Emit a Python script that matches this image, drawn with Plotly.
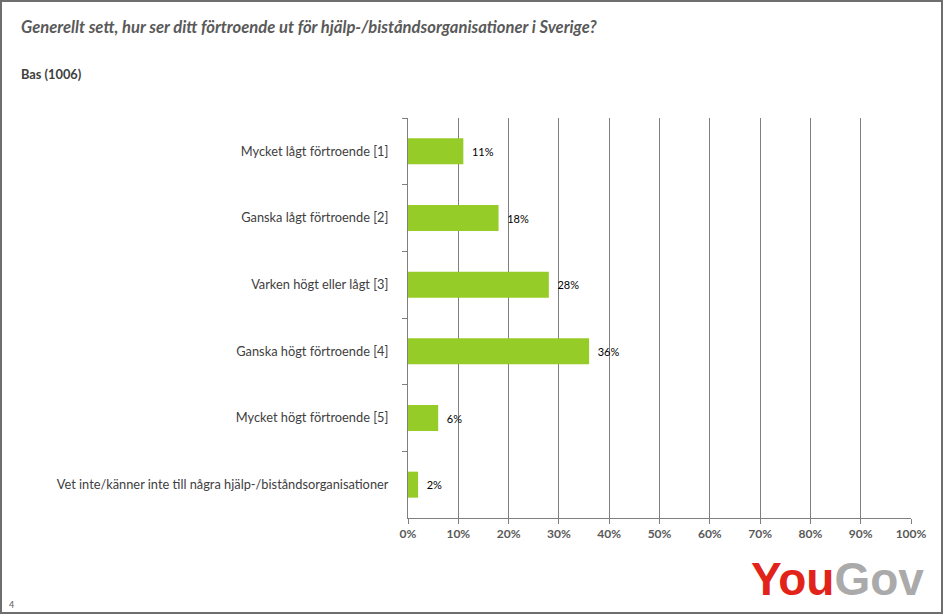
import plotly.graph_objects as go

categories = [
    "Mycket lågt förtroende [1]",
    "Ganska lågt förtroende [2]",
    "Varken högt eller lågt [3]",
    "Ganska högt förtroende [4]",
    "Mycket högt förtroende [5]",
    "Vet inte/känner inte till några hjälp-/biståndsorganisationer",
]
values = [11, 18, 28, 36, 6, 2]
tick_vals = [0, 10, 20, 30, 40, 50, 60, 70, 80, 90, 100]
tick_labels = [f"{v}%" for v in tick_vals]

title_text = "Generellt sett, hur ser ditt förtroende ut för hjälp-/biståndsorganisationer i Sverige?"
base_text = "Bas (1006)"
page_number = "4"

FONT = "Lato, Calibri, Carlito, sans-serif"
GRID = "#7f7f7f"

W, H = 943, 615
L, R, T, B = 408, 32, 118, 97

fig = go.Figure(
    go.Bar(
        y=categories,
        x=values,
        orientation="h",
        marker=dict(color="#96CC28", line=dict(width=0)),
        width=0.39,
        text=[f"{v}%" for v in values],
        texttemplate="  %{text}",
        textposition="outside",
        textfont=dict(family=FONT, size=11, color="#000000"),
        cliponaxis=False,
        hoverinfo="skip",
    )
)

fig.update_layout(
    width=W,
    height=H,
    paper_bgcolor="white",
    plot_bgcolor="white",
    margin=dict(l=L, r=R, t=T, b=B),
    showlegend=False,
    font=dict(family=FONT, color="#595959"),
)

fig.update_xaxes(
    range=[0, 100],
    tickvals=tick_vals,
    ticktext=tick_labels,
    showgrid=True,
    gridcolor=GRID,
    gridwidth=1,
    showline=True,
    linecolor=GRID,
    linewidth=1,
    ticks="outside",
    ticklen=5,
    tickcolor=GRID,
    tickfont=dict(family=FONT, size=12, color="#595959", weight="bold"),
    zeroline=False,
    fixedrange=True,
)

fig.update_yaxes(
    autorange="reversed",
    showline=True,
    linecolor=GRID,
    linewidth=1,
    ticks="outside",
    ticklen=5,
    tickcolor=GRID,
    tickson="boundaries",
    ticklabelstandoff=16,
    tickfont=dict(family=FONT, size=12.8, color="#404040"),
    showgrid=False,
    fixedrange=True,
)

pw = W - L - R
ph = H - T - B


def px(x):
    return (x - L) / pw


def py(y):
    return 1 - (y - T) / ph


annotations = [
    dict(text=f"<b><i>{title_text}</i></b>", x=px(19), y=py(27),
         xanchor="left", yanchor="middle",
         font=dict(family=FONT, size=16.6, color="#595959")),
    dict(text=f"<b>{base_text}</b>", x=px(19), y=py(74),
         xanchor="left", yanchor="middle",
         font=dict(family=FONT, size=12.8, color="#404040")),
    dict(text="<b><span style='color:#E2231A'>You</span><span style='color:#AAAAAA'>Gov</span></b>",
         x=px(926), y=py(579), xanchor="right", yanchor="middle",
         font=dict(family="Liberation Sans, Arial, sans-serif", size=46)),
    dict(text=page_number, x=px(7), y=py(604), xanchor="left", yanchor="middle",
         font=dict(family=FONT, size=9, color="#595959")),
]
for a in annotations:
    a.update(xref="paper", yref="paper", showarrow=False)
fig.update_layout(annotations=annotations)

# outer border
fig.add_shape(type="rect", xref="paper", yref="paper",
              x0=px(1), x1=px(942), y0=py(613), y1=py(1),
              line=dict(color="#6e6e6e", width=2), fillcolor="rgba(0,0,0,0)", layer="above")

fig.write_html("out.html", config={"displayModeBar": False},
               post_script="document.body.style.margin='0';")
